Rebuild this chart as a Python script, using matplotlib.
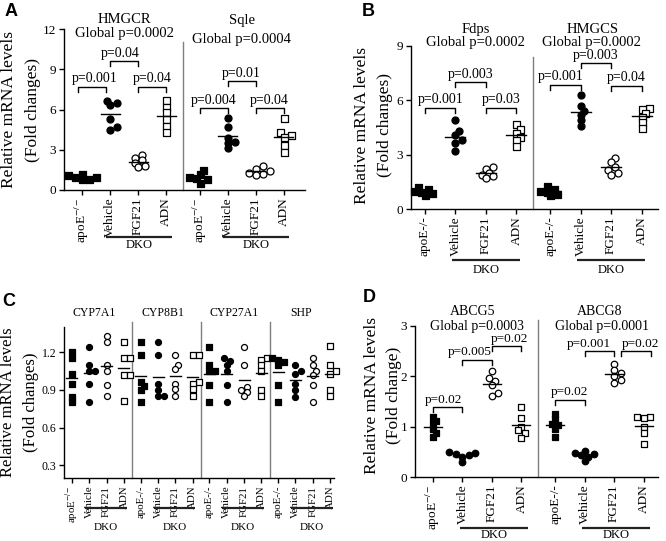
import matplotlib
matplotlib.use("Agg")
import matplotlib.pyplot as plt
import matplotlib.transforms as mtransforms
import numpy as np

plt.rcParams["font.family"] = ["Liberation Serif", "DejaVu Serif"]
plt.rcParams["mathtext.fontset"] = "stix"

W, H = 666, 541
APOE_SUP = "apoE$^{-/-}$"
APOE_TXT = "apoE-/-"
TREATMENTS = ["Vehicle", "FGF21", "ADN"]

# ---- data (fold changes), order per gene: apoE, Vehicle, FGF21, ADN ----
A_genes = ["HMGCR", "Sqle"]
A_global = ["Global p=0.0002", "Global p=0.0004"]
A_hmgcr = [[1.2, 1.1, 1.0, 0.95, 0.85, 0.8],
           [6.6, 6.5, 6.3, 5.3, 4.7, 4.5],
           [2.6, 2.4, 2.2, 2.0, 1.8, 1.7],
           [6.7, 6.2, 5.8, 5.3, 4.8, 4.3]]
A_sqle = [[1.5, 1.2, 1.0, 0.9, 0.8, 0.55],
          [5.4, 4.7, 3.9, 3.6, 3.5, 3.1],
          [1.8, 1.6, 1.4, 1.3, 1.2, 1.1],
          [5.4, 4.3, 4.1, 3.95, 3.35, 2.8]]
A_pvals = [["p=0.001", "p=0.04", "p=0.04"], ["p=0.004", "p=0.01", "p=0.04"]]

B_genes = ["Fdps", "HMGCS"]
B_global = ["Global p=0.0002", "Global p=0.0002"]
B_fdps = [[1.2, 1.1, 1.0, 0.95, 0.9, 0.75],
          [4.9, 4.3, 4.1, 3.8, 3.65, 3.2],
          [2.3, 2.2, 2.0, 1.9, 1.8, 1.7],
          [4.7, 4.4, 4.2, 4.0, 3.8, 3.5]]
B_hmgcs = [[1.25, 1.1, 1.0, 0.95, 0.85, 0.75],
           [6.3, 5.7, 5.4, 5.2, 4.9, 4.6],
           [2.8, 2.6, 2.3, 2.15, 2.0, 1.9],
           [5.6, 5.5, 5.3, 5.1, 4.8, 4.5]]
B_pvals = [["p=0.001", "p=0.003", "p=0.03"], ["p=0.001", "p=0.003", "p=0.04"]]

C_genes = ["CYP7A1", "CYP8B1", "CYP27A1", "SHP"]
C_cyp7a1 = [[1.2, 1.15, 1.03, 0.95, 0.84, 0.80],
            [1.24, 1.1, 1.05, 1.05, 0.95, 0.80],
            [1.33, 1.28, 1.1, 1.05, 0.94, 0.85],
            [1.28, 1.15, 1.15, 1.02, 1.02, 0.81]]
C_cyp8b1 = [[1.28, 1.18, 0.96, 0.93, 0.9, 0.80],
            [1.28, 1.18, 0.95, 0.9, 0.85, 0.85],
            [1.18, 1.1, 1.07, 0.95, 0.91, 0.85],
            [1.18, 1.18, 0.96, 0.95, 0.91, 0.85]]
C_cyp27a1 = [[1.24, 1.1, 1.05, 1.05, 0.94, 0.80],
             [1.15, 1.13, 1.1, 1.05, 0.94, 0.80],
             [1.24, 1.1, 0.92, 0.9, 0.88, 0.85],
             [1.15, 1.14, 1.1, 1.05, 0.9, 0.85]]
C_shp = [[1.15, 1.14, 1.12, 1.1, 0.94, 0.80],
         [1.1, 1.05, 1.03, 0.95, 0.9, 0.84],
         [1.15, 1.1, 1.05, 1.02, 0.94, 0.80],
         [1.25, 1.1, 1.05, 1.03, 0.9, 0.85]]

D_genes = ["ABCG5", "ABCG8"]
D_global = ["Global p=0.0003", "Global p=0.0001"]
D_abcg5 = [[1.2, 1.12, 1.05, 0.95, 0.87, 0.8],
           [0.49, 0.47, 0.45, 0.43, 0.40, 0.30],
           [2.1, 1.96, 1.9, 1.83, 1.66, 1.6],
           [1.4, 1.18, 1.0, 0.93, 0.87, 0.78]]
D_abcg8 = [[1.25, 1.15, 1.05, 1.03, 0.95, 0.8],
           [0.52, 0.47, 0.45, 0.43, 0.40, 0.32],
           [2.25, 2.13, 2.06, 2.0, 1.93, 1.87],
           [1.2, 1.2, 1.17, 1.0, 0.87, 0.66]]
D_pvals = [["p=0.02", "p=0.005", "p=0.02"], ["p=0.02", "p=0.001", "p=0.02"]]

# marker style per group: (marker, facecolor)
STYLES = [("s", "black"), ("o", "black"), ("o", "white"), ("s", "white")]


def swarm_offsets(ys_px, d):
    """simple beeswarm: spread overlapping points sideways (pixels)"""
    xs = np.zeros(len(ys_px))
    placed = []
    for i in np.argsort(ys_px):
        y = ys_px[i]
        for k in [0, 1, -1, 2, -2, 3, -3, 4, -4]:
            x = k * d * 0.5
            if all((x - px) ** 2 + (y - py) ** 2 >= (d * 0.7) ** 2 for px, py in placed):
                break
        xs[i] = x
        placed.append((x, y))
    return xs


def draw_panel(fig, p):
    L, R, T, B = p["box"]
    ax = fig.add_axes([L / W, 1 - B / H, (R - L) / W, (B - T) / H])
    ax.set_xlim(*p["xlim"])
    ax.set_ylim(*p["ylim"])
    for s in ["top", "right"]:
        ax.spines[s].set_visible(False)
    for s in ["left", "bottom"]:
        ax.spines[s].set_linewidth(1.0)
    ppx = (R - L) / (p["xlim"][1] - p["xlim"][0])  # px per x unit
    ppy = (B - T) / (p["ylim"][1] - p["ylim"][0])  # px per y unit
    G = p["G"]
    ms = p["ms"]

    xt, xl = [], []
    for g, (gene, series) in enumerate(zip(p["genes"], p["data"])):
        x0 = g * G
        for c, vals in enumerate(series):
            vals = np.array(vals)
            off = swarm_offsets(vals * ppy, ms) / ppx
            mk, fc = STYLES[c]
            ax.scatter(x0 + c + off, vals, s=(ms * 0.72) ** 2, marker=mk,
                       facecolor=fc, edgecolor="black", linewidth=0.9,
                       zorder=3, clip_on=False)
            hw = p["mean_hw"] / ppx
            ax.plot([x0 + c - hw, x0 + c + hw], [vals.mean()] * 2,
                    color="black", lw=1.0, zorder=4)
            xt.append(x0 + c)
        xl += [p["apoe"][g]] + TREATMENTS

        # titles
        cx = x0 + 1.5 + p["title_dx"][g]
        ax.text(cx, p["title_y"][g][0], gene, ha="center", va="center",
                fontsize=p["title_fs"], clip_on=False)
        if p.get("glob"):
            ax.text(x0 + 1.5 + p["glob_dx"][g], p["title_y"][g][1], p["glob"][g],
                    ha="center", va="center", fontsize=p["title_fs"], clip_on=False)

        # brackets
        if p.get("pvals"):
            tick = 5 / ppy
            for k, (txt, by) in enumerate(zip(p["pvals"][g], p["br_y"][g])):
                bdx, tdx = p["br_dx"][g][k]
                xa, xb = x0 + k + bdx / ppx, x0 + k + 1 + bdx / ppx
                ax.plot([xa, xa, xb, xb], [by - tick, by, by, by - tick],
                        color="black", lw=1.0, clip_on=False)
                ax.text((xa + xb) / 2 + tdx / ppx, by + 1.5 / ppy, txt, ha="center",
                        va="bottom", fontsize=p["p_fs"], clip_on=False)

        # divider
        if g > 0:
            dx = x0 - (G - 3) / 2
            ax.plot([dx, dx], [p["ylim"][0], p["div_top"]], color="#7f7f7f",
                    lw=1.0, clip_on=False, zorder=1)

        # DKO underline
        bt = mtransforms.blended_transform_factory(ax.transData, ax.transAxes)
        lt = mtransforms.offset_copy(bt, fig=fig, y=-p["dko"][0], units="dots")
        tt = mtransforms.offset_copy(bt, fig=fig, y=-p["dko"][1], units="dots")
        a, b = p["dko_x"]
        ax.plot([x0 + a, x0 + b], [0, 0], color="#222222", lw=1.6,
                transform=lt, clip_on=False, solid_capstyle="butt")
        ax.text(x0 + (a + b) / 2, 0, "DKO", transform=tt, ha="center",
                va="center", fontsize=p["dko_fs"], clip_on=False)

    ax.set_xticks(xt)
    ax.set_xticklabels(xl, rotation=90, fontsize=p["xt_fs"])
    ax.set_yticks(p["yticks"])
    ax.set_yticklabels(p["yticklabels"], fontsize=p["yt_fs"])
    ax.tick_params(direction="out", length=3.5, width=1.0, pad=2)

    # y label
    lx1, lx2, ly = p["ylab"]
    fig.text(lx1 / W, 1 - ly / H, "Relative mRNA levels", rotation=90,
             ha="center", va="center", fontsize=p["ylab_fs"])
    fig.text(lx2 / W, 1 - ly / H, p["ylab2"], rotation=90,
             ha="center", va="center", fontsize=p["ylab_fs"])
    fig.text(p["letter"][0] / W, 1 - p["letter"][1] / H, p["name"],
             ha="center", va="center", fontsize=13, fontweight="bold",
             family=["Liberation Sans", "DejaVu Sans"])
    return ax


fig = plt.figure(figsize=(W / 100, H / 100), dpi=100)

panels = [
    dict(name="A", box=(64, 305, 29, 190), xlim=(-0.643, 7.96), ylim=(0, 12), G=4.2,
         genes=A_genes, data=[A_hmgcr, A_sqle], glob=A_global,
         yticks=[0, 3, 6, 9, 12], yticklabels=["0", "3", "6", "9", "12"],
         apoe=[APOE_SUP, APOE_SUP], title_dx=[0, 0], glob_dx=[0, 0],
         title_y=[(12.7, 11.7), (12.6, 11.2)], title_fs=10.5,
         pvals=A_pvals, br_y=[[7.7, 9.6, 7.7], [6.1, 8.1, 6.1]], p_fs=10,
         br_dx=[[(-4, 3), (0, -4), (0, 0)], [(0, 0), (0, 0), (0, 0)]],
         div_top=11.0, dko=(47, 55), dko_x=(0.85, 3.2), dko_fs=9,
         ms=7, mean_hw=9.5, xt_fs=9.5, yt_fs=9.5,
         ylab=(9, 33, 110), ylab2="(Fold changes)", ylab_fs=12.5, letter=(11, 12)),
    dict(name="B", box=(411, 658, 46, 209), xlim=(-0.459, 7.64), ylim=(0, 9), G=4.1,
         genes=B_genes, data=[B_fdps, B_hmgcs], glob=B_global,
         yticks=[0, 3, 6, 9], yticklabels=["0", "3", "6", "9"],
         apoe=[APOE_TXT, APOE_TXT], title_dx=[0.17, -0.1], glob_dx=[0.17, -0.15],
         title_y=[(9.9, 9.17), (9.9, 9.17)], title_fs=10.5,
         pvals=B_pvals, br_y=[[5.58, 7.0, 5.6], [6.85, 8.05, 6.8]], p_fs=10,
         br_dx=[[(0, 0), (0, 0), (0, 0)], [(0, -5), (0, 0), (0, 0)]],
         div_top=8.4, dko=(51, 61), dko_x=(0.9, 3.1), dko_fs=9,
         ms=7, mean_hw=10, xt_fs=9.5, yt_fs=9.5,
         ylab=(362, 385, 125), ylab2="(Fold changes)", ylab_fs=12.5, letter=(368, 11)),
    dict(name="C", box=(64, 334, 327, 478), xlim=(-0.462, 15.14), ylim=(0.2, 1.4), G=3.97,
         genes=C_genes, data=[C_cyp7a1, C_cyp8b1, C_cyp27a1, C_shp], glob=None,
         yticks=[0.3, 0.6, 0.9, 1.2], yticklabels=["0.3", "0.6", "0.9", "1.2"],
         apoe=[APOE_SUP, APOE_TXT, APOE_TXT, APOE_TXT], title_dx=[-0.25, -0.2, -0.1, -0.2],
         glob_dx=[0, 0, 0, 0], title_y=[(1.51, 0), (1.51, 0), (1.51, 0), (1.51, 0)],
         title_fs=8.5, pvals=None, div_top=1.44, dko=(30, 50), dko_x=(0.75, 3.15),
         dko_fs=8, ms=6, mean_hw=5.5, xt_fs=7.8, yt_fs=8.5,
         ylab=(8, 31, 402), ylab2="(Fold changes)", ylab_fs=12, letter=(9, 301)),
    dict(name="D", box=(415, 658, 326, 477), xlim=(-0.61, 7.63), ylim=(0, 3), G=4.14,
         genes=D_genes, data=[D_abcg5, D_abcg8], glob=D_global,
         yticks=[0, 1, 2, 3], yticklabels=["0", "1", "2", "3"],
         apoe=[APOE_SUP, APOE_TXT], title_dx=[-0.14, 0], glob_dx=[0, 0.1],
         title_y=[(3.28, 2.99), (3.28, 2.99)], title_fs=10,
         pvals=D_pvals, br_y=[[1.39, 2.33, 2.6], [1.53, 2.5, 2.5]], p_fs=9.5,
         br_dx=[[(0, -4), (0, -8), (0, 3)], [(0, 0), (0, -10), (7, 5)]],
         div_top=3.12, dko=(51, 58), dko_x=(0.92, 3.22), dko_fs=9,
         ms=6.5, mean_hw=9, xt_fs=9.5, yt_fs=9.5,
         ylab=(372, 394, 395), ylab2="(Fold change)", ylab_fs=12.5, letter=(369, 297)),
]

for p in panels:
    draw_panel(fig, p)

fig.savefig("out.png", dpi=100)
